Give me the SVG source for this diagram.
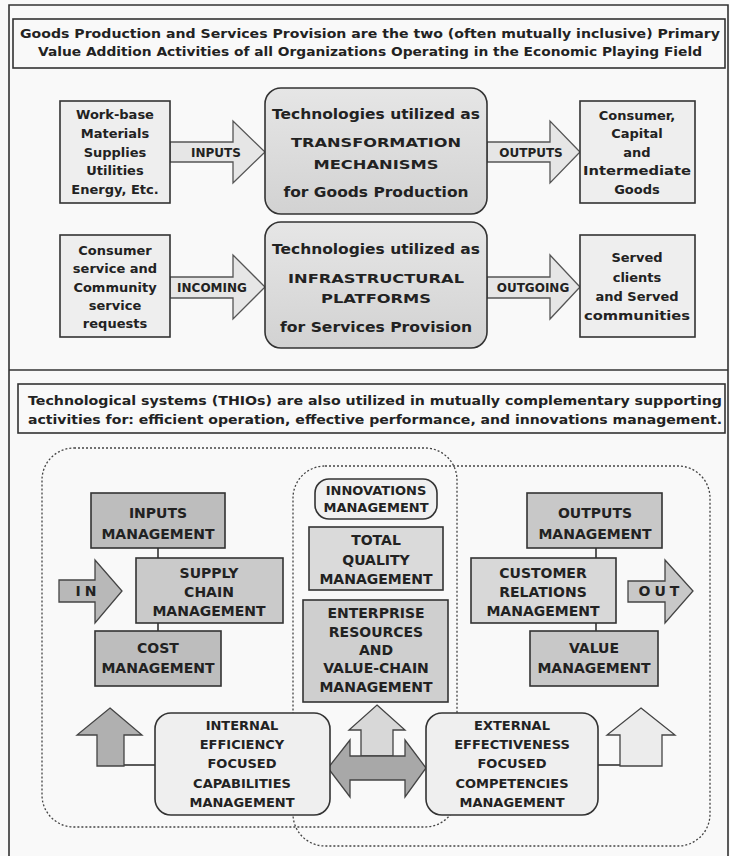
<svg xmlns="http://www.w3.org/2000/svg" width="730" height="856" viewBox="0 0 730 856">
<style>
text{font-family:"DejaVu Sans","Verdana",sans-serif;font-weight:bold;fill:#222;text-anchor:middle}
.t13{font-size:13px}
.t12{font-size:12px}
.t14{font-size:14px}
.box{stroke:#333;stroke-width:1.6}
.arr{fill:#e6e6e6;stroke:#555;stroke-width:1.3}
.dash{fill:none;stroke:#444;stroke-width:1.3;stroke-dasharray:2 2}
.ln{stroke:#333;stroke-width:1.6}
</style>
<defs>
<linearGradient id="cg" x1="0" y1="0" x2="0" y2="1">
<stop offset="0" stop-color="#e6e6e6"/><stop offset="1" stop-color="#d2d2d2"/>
</linearGradient>
</defs>
<rect x="0" y="0" width="730" height="856" fill="#f9f9f9"/>
<path d="M9,860 V5 H728 V860" fill="none" stroke="#333" stroke-width="1.6"/>
<line x1="9" y1="370" x2="728" y2="370" stroke="#333" stroke-width="1.6"/>

<g id="title1">
<rect x="13" y="19" width="712" height="49" fill="#f9f9f9" class="box"/>
<text class="t13" x="370" y="38" textLength="700" lengthAdjust="spacingAndGlyphs">Goods Production and Services Provision are the two (often mutually inclusive) Primary</text>
<text class="t13" x="370" y="56" textLength="664" lengthAdjust="spacingAndGlyphs">Value Addition Activities of all Organizations Operating in the Economic Playing Field</text>
</g>

<g id="connectors">
<polygon class="arr" points="170,142 233,142 233,121 265,152 233,183 233,162 170,162"/>
<text class="t12" x="216" y="157">INPUTS</text>
<polygon class="arr" points="487,142 550,142 550,121 580,152 550,183 550,162 487,162"/>
<text class="t12" x="531" y="157">OUTPUTS</text>
<polygon class="arr" points="170,277 233,277 233,255 265,287 233,319 233,298 170,298"/>
<text class="t12" x="212" y="292">INCOMING</text>
<polygon class="arr" points="487,277 550,277 550,255 580,287 550,319 550,298 487,298"/>
<text class="t12" x="533" y="292">OUTGOING</text>

<line class="ln" x1="158" y1="548" x2="158" y2="558"/>
<line class="ln" x1="158" y1="623" x2="158" y2="631"/>
<line class="ln" x1="596" y1="548" x2="596" y2="558"/>
<line class="ln" x1="596" y1="623" x2="596" y2="631"/>

<polygon points="59,580 95,580 95,560 122,591 95,623 95,602 59,602" fill="#b8b8b8" stroke="#444" stroke-width="1.3"/>
<text class="t14" x="88" y="596" letter-spacing="4">IN</text>
<polygon points="628,581 665,581 665,560 693,591 665,623 665,602 628,602" fill="#c8c8c8" stroke="#444" stroke-width="1.3"/>
<text class="t14" x="661" y="596" letter-spacing="4">OUT</text>

<line class="ln" x1="124" y1="765" x2="155" y2="765"/>
<polygon points="110,708 142,735 124,735 124,766 97,766 97,735 77,735" fill="#b0b0b0" stroke="#444" stroke-width="1.3"/>
<line class="ln" x1="598" y1="765" x2="620" y2="765"/>
<polygon points="641,708 675,735 662,735 662,766 620,766 620,735 607,735" fill="#ececec" stroke="#444" stroke-width="1.3"/>
<polygon points="377,705 405,730 393,730 393,756 361,756 361,730 349,730" fill="#d8d8d8" stroke="#444" stroke-width="1.3"/>
<polygon points="328,768 350,740 350,756 405,756 405,740 426,768 405,797 405,780 350,780 350,797" fill="#a8a8a8" stroke="#444" stroke-width="1.3"/>
</g>

<g id="n-workbase">
<rect x="60" y="101" width="110" height="102" fill="#eeeeee" class="box"/>
<text class="t13" x="115" y="119">Work-base</text>
<text class="t13" x="115" y="138">Materials</text>
<text class="t13" x="115" y="157">Supplies</text>
<text class="t13" x="115" y="175">Utilities</text>
<text class="t13" x="115" y="194">Energy, Etc.</text>
</g>

<g id="n-transform">
<rect x="265" y="88" width="222" height="126" rx="16" fill="url(#cg)" class="box"/>
<text x="376" y="119" font-size="14" textLength="208" lengthAdjust="spacingAndGlyphs">Technologies utilized as</text>
<text x="376" y="147" font-size="13" textLength="170" lengthAdjust="spacingAndGlyphs">TRANSFORMATION</text>
<text x="376" y="169" font-size="13" textLength="125" lengthAdjust="spacingAndGlyphs">MECHANISMS</text>
<text x="376" y="197" font-size="14" textLength="185" lengthAdjust="spacingAndGlyphs">for Goods Production</text>
</g>

<g id="n-goods">
<rect x="580" y="101" width="115" height="102" fill="#eeeeee" class="box"/>
<text class="t13" x="637" y="120">Consumer,</text>
<text class="t13" x="637" y="138">Capital</text>
<text class="t13" x="637" y="157">and</text>
<text class="t13" x="637" y="175" textLength="108" lengthAdjust="spacingAndGlyphs">Intermediate</text>
<text class="t13" x="637" y="194">Goods</text>
</g>

<g id="n-requests">
<rect x="60" y="235" width="110" height="102" fill="#eeeeee" class="box"/>
<text class="t13" x="115" y="255">Consumer</text>
<text class="t13" x="115" y="273">service and</text>
<text class="t13" x="115" y="292">Community</text>
<text class="t13" x="115" y="310">service</text>
<text class="t13" x="115" y="328">requests</text>
</g>

<g id="n-infra">
<rect x="265" y="222" width="222" height="126" rx="16" fill="url(#cg)" class="box"/>
<text x="376" y="254" font-size="14" textLength="208" lengthAdjust="spacingAndGlyphs">Technologies utilized as</text>
<text x="376" y="283" font-size="13" textLength="176" lengthAdjust="spacingAndGlyphs">INFRASTRUCTURAL</text>
<text x="376" y="303" font-size="13" textLength="110" lengthAdjust="spacingAndGlyphs">PLATFORMS</text>
<text x="376" y="332" font-size="14" textLength="192" lengthAdjust="spacingAndGlyphs">for Services Provision</text>
</g>

<g id="n-served">
<rect x="580" y="235" width="115" height="102" fill="#eeeeee" class="box"/>
<text class="t13" x="637" y="262">Served</text>
<text class="t13" x="637" y="282">clients</text>
<text class="t13" x="637" y="301">and Served</text>
<text class="t13" x="637" y="320" textLength="106" lengthAdjust="spacingAndGlyphs">communities</text>
</g>

<g id="title2">
<rect x="18" y="384" width="707" height="49" fill="#f9f9f9" class="box"/>
<text class="t13" x="28" y="405" style="text-anchor:start" textLength="694" lengthAdjust="spacingAndGlyphs">Technological systems (THIOs) are also utilized in mutually complementary supporting</text>
<text class="t13" x="28" y="424" style="text-anchor:start" textLength="694" lengthAdjust="spacingAndGlyphs">activities for: efficient operation, effective performance, and innovations management.</text>
</g>

<g id="regions">
<rect class="dash" x="42" y="448" width="415" height="379" rx="32"/>
<rect class="dash" x="293" y="466" width="417" height="380" rx="32"/>
</g>

<g id="n-inputsmgmt">
<rect x="91" y="493" width="134" height="55" fill="#bdbdbd" class="box"/>
<text class="t14" x="158" y="518">INPUTS</text>
<text class="t14" x="158" y="539">MANAGEMENT</text>
</g>
<g id="n-supply">
<rect x="136" y="558" width="147" height="65" fill="#cacaca" class="box"/>
<text class="t14" x="209" y="578">SUPPLY</text>
<text class="t14" x="209" y="597">CHAIN</text>
<text class="t14" x="209" y="616">MANAGEMENT</text>
</g>
<g id="n-cost">
<rect x="95" y="631" width="126" height="55" fill="#bdbdbd" class="box"/>
<text class="t14" x="158" y="653">COST</text>
<text class="t14" x="158" y="673">MANAGEMENT</text>
</g>

<g id="n-innov">
<rect x="315" y="479" width="122" height="40" rx="14" fill="#f0f0f0" class="box"/>
<text class="t13" x="376" y="495">INNOVATIONS</text>
<text class="t13" x="376" y="512">MANAGEMENT</text>
</g>
<g id="n-tqm">
<rect x="309" y="527" width="134" height="63" fill="#dadada" class="box"/>
<text class="t14" x="376" y="545">TOTAL</text>
<text class="t14" x="376" y="565">QUALITY</text>
<text class="t14" x="376" y="584">MANAGEMENT</text>
</g>
<g id="n-erp">
<rect x="303" y="600" width="145" height="102" fill="#cfcfcf" class="box"/>
<text class="t14" x="376" y="618">ENTERPRISE</text>
<text class="t14" x="376" y="637">RESOURCES</text>
<text class="t14" x="376" y="655">AND</text>
<text class="t14" x="376" y="673">VALUE-CHAIN</text>
<text class="t14" x="376" y="692">MANAGEMENT</text>
</g>

<g id="n-outputsmgmt">
<rect x="527" y="493" width="135" height="55" fill="#c8c8c8" class="box"/>
<text class="t14" x="595" y="518">OUTPUTS</text>
<text class="t14" x="595" y="539">MANAGEMENT</text>
</g>
<g id="n-crm">
<rect x="471" y="558" width="145" height="65" fill="#d8d8d8" class="box"/>
<text class="t14" x="543" y="578">CUSTOMER</text>
<text class="t14" x="543" y="597">RELATIONS</text>
<text class="t14" x="543" y="616">MANAGEMENT</text>
</g>
<g id="n-value">
<rect x="530" y="631" width="128" height="55" fill="#c8c8c8" class="box"/>
<text class="t14" x="594" y="653">VALUE</text>
<text class="t14" x="594" y="673">MANAGEMENT</text>
</g>

<g id="n-internal">
<rect x="155" y="713" width="175" height="102" rx="16" fill="#efefef" class="box"/>
<text class="t13" x="242" y="730">INTERNAL</text>
<text class="t13" x="242" y="749">EFFICIENCY</text>
<text class="t13" x="242" y="768">FOCUSED</text>
<text class="t13" x="242" y="788">CAPABILITIES</text>
<text class="t13" x="242" y="807">MANAGEMENT</text>
</g>
<g id="n-external">
<rect x="426" y="713" width="172" height="102" rx="16" fill="#efefef" class="box"/>
<text class="t13" x="512" y="730">EXTERNAL</text>
<text class="t13" x="512" y="749">EFFECTIVENESS</text>
<text class="t13" x="512" y="768">FOCUSED</text>
<text class="t13" x="512" y="788">COMPETENCIES</text>
<text class="t13" x="512" y="807">MANAGEMENT</text>
</g>
</svg>
